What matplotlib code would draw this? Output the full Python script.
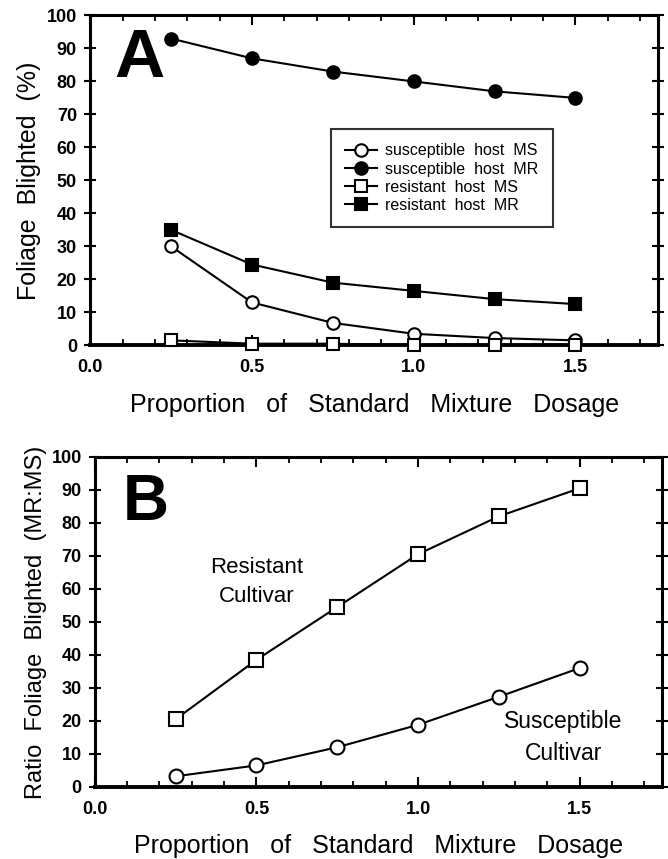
import matplotlib
matplotlib.use("Agg")
import matplotlib.pyplot as plt
from matplotlib.ticker import MultipleLocator

plt.rcParams['font.family'] = ['Liberation Sans', 'DejaVu Sans']

dose = [0.25, 0.5, 0.75, 1.0, 1.25, 1.5]
# Panel A
sus_ms = [30, 13, 6.8, 3.5, 2.2, 1.5]
sus_mr = [93, 87, 83, 80, 77, 75]
res_ms = [1.5, 0.5, 0.5, 0, 0, 0]
res_mr = [35, 24.5, 19, 16.5, 14, 12.5]
# Panel B
ratio_res = [20.5, 38.5, 54.5, 70.5, 82, 90.5]
ratio_sus = [3.2, 6.5, 12, 18.8, 27.3, 36]

xticks = [0.0, 0.5, 1.0, 1.5]
xticklabels = ["0.0", "0.5", "1.0", "1.5"]
yticks = list(range(0, 101, 10))

fig = plt.figure(figsize=(6.68, 8.59), dpi=100)
axA = fig.add_axes([0.135, 0.598, 0.850, 0.384])
axB = fig.add_axes([0.142, 0.084, 0.849, 0.384])

def style(ax):
    ax.set_xlim(0, 1.755)
    ax.set_ylim(0, 100)
    ax.set_xticks(xticks)
    ax.set_xticklabels(xticklabels)
    ax.set_yticks(yticks)
    ax.xaxis.set_minor_locator(MultipleLocator(0.1))
    for s in ax.spines.values():
        s.set_linewidth(2.2)
    ax.spines['bottom'].set_linewidth(2.8)
    ax.tick_params(axis='both', which='major', labelsize=13, width=1.5,
                   length=7, direction='in', top=True, right=True, pad=10)
    ax.tick_params(axis='y', which='major', direction='inout', length=9,
                   pad=5)
    ax.tick_params(axis='x', which='minor', direction='in', top=True,
                   length=4, width=1.3)
    for lab in ax.get_xticklabels() + ax.get_yticklabels():
        lab.set_fontweight('bold')
    ax.set_xlabel("Proportion   of   Standard   Mixture   Dosage",
                  fontsize=18, labelpad=12)

lw = 1.5
mk = dict(markeredgewidth=1.5, markeredgecolor='black', color='black',
          linewidth=lw, clip_on=False, zorder=3)

axA.plot(dose, sus_ms, marker='o', markersize=9, markerfacecolor='white',
         label='susceptible  host  MS', **mk)
axA.plot(dose, sus_mr, marker='o', markersize=9, markerfacecolor='black',
         label='susceptible  host  MR', **mk)
axA.plot(dose, res_ms, marker='s', markersize=9, markerfacecolor='white',
         label='resistant  host  MS', **mk)
axA.plot(dose, res_mr, marker='s', markersize=9, markerfacecolor='black',
         label='resistant  host  MR', **mk)
style(axA)
axA.set_ylabel("Foliage  Blighted  (%)", fontsize=18, labelpad=4)
leg = axA.legend(loc='upper left', bbox_to_anchor=(0.41, 0.68),
                 fontsize=11.5, frameon=True, fancybox=False,
                 edgecolor='black', handlelength=2.0, handletextpad=0.5,
                 borderpad=0.9, labelspacing=0.2)
leg.get_frame().set_linewidth(1.5)
axA.text(0.075, 96.5, "A", fontsize=50, fontweight='bold', ha='left',
         va='top')

axB.plot(dose, ratio_res, marker='s', markersize=10, markerfacecolor='white',
         **mk)
axB.plot(dose, ratio_sus, marker='o', markersize=10, markerfacecolor='white',
         **mk)
style(axB)
axB.set_ylabel("Ratio  Foliage  Blighted  (MR:MS)", fontsize=17,
               labelpad=3)
axB.text(0.085, 95, "B", fontsize=46, fontweight='bold', ha='left',
         va='top')
axB.text(0.5, 62, "Resistant\nCultivar", fontsize=16, ha='center',
         va='center', linespacing=1.5)
axB.text(1.45, 15, "Susceptible\nCultivar", fontsize=16.5, ha='center',
         va='center', linespacing=1.5)

fig.savefig("out.png", dpi=100)
